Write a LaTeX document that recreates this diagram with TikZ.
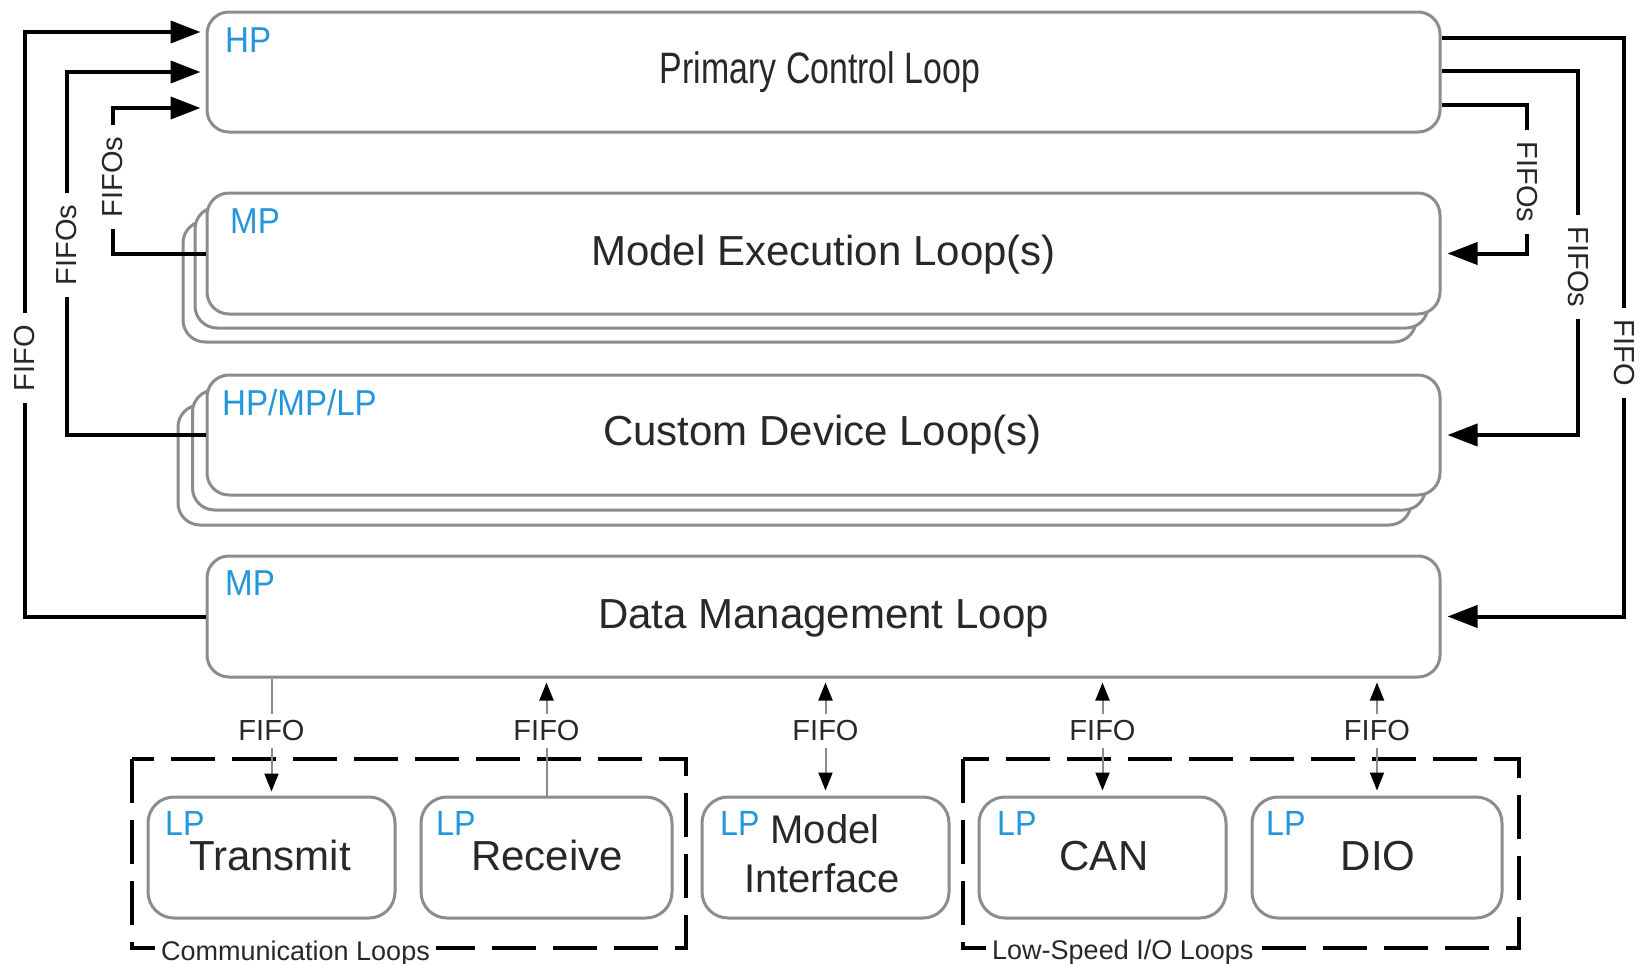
\documentclass[tikz,border=0pt]{standalone}
\usepackage{fontspec}
\setmainfont{Liberation Sans}
\usepackage{graphicx}
\usetikzlibrary{arrows.meta,calc}
\definecolor{boxgray}{RGB}{140,140,140}
\definecolor{lblue}{RGB}{35,150,220}
\definecolor{txtc}{RGB}{40,40,40}
\newcommand{\fsz}[2]{\fontsize{#1}{#2}\selectfont}
\newcommand{\prn}[1]{\scalebox{0.92}[1]{#1}}
\begin{document}
\begin{tikzpicture}[x=1pt,y=-1pt,
  bigbox/.style={draw=boxgray,line width=3pt,rounded corners=22pt,fill=white,inner sep=0pt,minimum width=1233pt},
  smallbox/.style={draw=boxgray,line width=3pt,rounded corners=26pt,fill=white,inner sep=0pt,minimum height=121pt},
  mainlbl/.style={anchor=base,inner sep=0pt,text=txtc,font=\fsz{42}{42}},
  boxlbl/.style={anchor=base,inner sep=0pt,text=txtc,font=\fsz{42}{42}},
  prio/.style={anchor=base west,inner sep=0pt,text=lblue,font=\fsz{36}{36}},
  lprio/.style={anchor=base west,inner sep=0pt,text=lblue,font=\fsz{35}{35}},
  conn/.style={line width=4pt,black,-{Triangle[length=30pt,width=22pt]}},
  fifov/.style={fill=white,inner xsep=12pt,inner ysep=1pt,text=txtc,font=\fsz{29}{29}},
  fifoh/.style={fill=white,inner xsep=2pt,inner ysep=7pt,text=txtc,font=\fsz{29}{29}},
  thinconn/.style={draw=boxgray,line width=2pt},
  tipb/.tip={Triangle[length=18pt,width=14pt,color=black]},
  dashbox/.style={draw=black,line width=4pt,dash pattern=on 44pt off 17pt,inner sep=0pt},
  grplbl/.style={anchor=base west,fill=white,inner xsep=6pt,inner ysep=2pt,text=txtc,font=\fsz{27}{27}}
]
\fill[white] (0,0) rectangle (1647,964);
\useasboundingbox (0,0) rectangle (1647,964);

% Primary Control Loop
\node[bigbox,minimum height=120pt] (pcl) at (823.5,72) {};
\node[mainlbl] (pcltxt) at (820,83) {\scalebox{0.77}[1]{\fsz{44}{44}Primary Control Loop}};
\node[prio] (pclp) at (225,52) {\prn{HP}};

% Model Execution Loop(s)
\node[bigbox,minimum height=121pt] (me3) at (799.5,281.5) {};
\node[bigbox,minimum height=121pt] (me2) at (811.5,267.5) {};
\node[bigbox,minimum height=121pt] (me) at (823.5,253.5) {};
\node[mainlbl] (metxt) at (823.5,265) {Model Execution Loop(s)};
\node[prio] (mep) at (230,233) {\prn{MP}};

% Custom Device Loop(s)
\node[bigbox,minimum height=120pt] (cd3) at (794.5,465) {};
\node[bigbox,minimum height=120pt] (cd2) at (809,450) {};
\node[bigbox,minimum height=120pt] (cd) at (823.5,435) {};
\node[mainlbl] (cdtxt) at (822.5,445) {Custom Device Loop(s)};
\node[prio] (cdp) at (222,415) {\prn{HP/MP/LP}};

% Data Management Loop
\node[bigbox,minimum height=121pt] (dm) at (823.5,616.5) {};
\node[mainlbl] (dmtxt) at (823.5,628) {Data Management Loop};
\node[prio] (dmp) at (225,595) {\prn{MP}};

% left connectors
\draw[conn,shorten >=5pt] (dm.west) -- (25,616.5) -- (25,32) -- (pcl.west |- 0,32);
\draw[conn,shorten >=5pt] (cd.west) -- (67,435) -- (67,72) -- (pcl.west |- 0,72);
\draw[conn,shorten >=5pt] (me.west) -- (113,253.5) -- (113,108) -- (pcl.west |- 0,108);
\node[fifov,rotate=90] (lf1) at (25,358) {FIFO};
\node[fifov,rotate=90] (lf2) at (67,245) {FIFOs};
\node[fifov,rotate=90] (lf3) at (113,177) {FIFOs};

% right connectors
\draw[conn,shorten >=6pt] (pcl.east |- 0,38) -- (1624,38) -- (1624,616.5) -- (dm.east);
\draw[conn,shorten >=6pt] (pcl.east |- 0,71) -- (1578,71) -- (1578,435) -- (cd.east);
\draw[conn,shorten >=6pt] (pcl.east |- 0,105) -- (1527,105) -- (1527,253.5) -- (me.east);
\node[fifov,rotate=-90] (rf1) at (1624,353) {FIFO};
\node[fifov,rotate=-90] (rf2) at (1578,267) {FIFOs};
\node[fifov,rotate=-90] (rf3) at (1527,182) {FIFOs};

% dashed group boxes
\draw[dashbox] (132,759) rectangle (686,948);
\draw[dashbox] (963,759) rectangle (1519,948);
\node[grplbl] (commlbl) at (155,960) {Communication Loops};
\node[grplbl] (lslbl) at (986,959) {Low-Speed I/O Loops};

% bottom boxes
\node[smallbox,minimum width=247pt] (tx) at (271.5,857.5) {};
\node[smallbox,minimum width=251pt] (rx) at (546.5,857.5) {};
\node[smallbox,minimum width=247pt] (mi) at (825.5,857.5) {};
\node[smallbox,minimum width=247pt] (can) at (1102.5,857.5) {};
\node[smallbox,minimum width=250pt] (dio) at (1377,857.5) {};

\node[boxlbl] (txtxt) at (270,870) {Transmit};
\node[boxlbl] (rxtxt) at (547,870) {Receive};
\node[boxlbl,font=\fsz{40}{40}] (mitxt1) at (825,843) {Model};
\node[boxlbl,font=\fsz{40}{40}] (mitxt2) at (822,892) {Interface};
\node[boxlbl] (cantxt) at (1104,870) {CAN};
\node[boxlbl] (diotxt) at (1378,870) {DIO};

\node[lprio] (txp) at (165,835) {\prn{LP}};
\node[lprio] (rxp) at (436,835) {\prn{LP}};
\node[lprio] (mip) at (720,835) {\prn{LP}};
\node[lprio] (canp) at (997,835) {\prn{LP}};
\node[lprio] (diop) at (1266,835) {\prn{LP}};

% bottom connectors
\draw[thinconn,-tipb,shorten >=4pt] (dm.south -| tx.north) -- (tx.north);
\draw[thinconn,tipb-,shorten <=4pt] (dm.south -| rx.north) -- (rx.north);
\draw[thinconn,tipb-tipb,shorten <=4pt,shorten >=5pt] (dm.south -| mi.north) -- (mi.north);
\draw[thinconn,tipb-tipb,shorten <=4pt,shorten >=5pt] (dm.south -| can.north) -- (can.north);
\draw[thinconn,tipb-tipb,shorten <=4pt,shorten >=5pt] (dm.south -| dio.north) -- (dio.north);
\node[fifoh] (bf1) at (271.5,731) {FIFO};
\node[fifoh] (bf2) at (546.5,731) {FIFO};
\node[fifoh] (bf3) at (825.5,731) {FIFO};
\node[fifoh] (bf4) at (1102.5,731) {FIFO};
\node[fifoh] (bf5) at (1377,731) {FIFO};
\end{tikzpicture}
\end{document}
